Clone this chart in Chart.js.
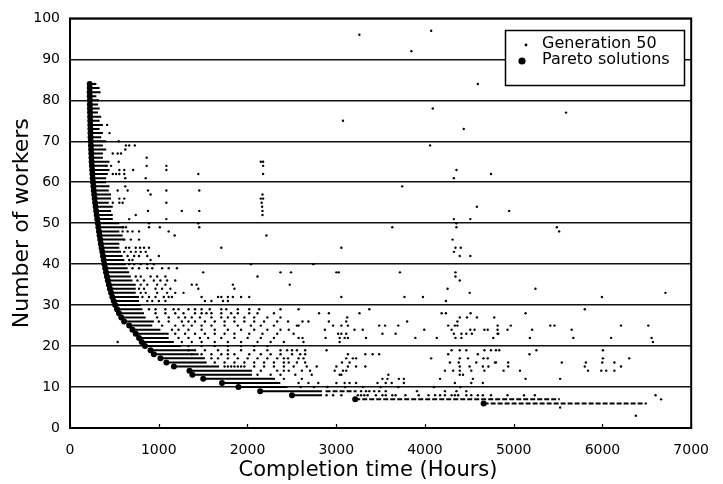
<!DOCTYPE html>
<html><head><meta charset="utf-8">
<script src="https://cdn.jsdelivr.net/npm/chart.js@4.4.1/dist/chart.umd.min.js"></script>
<style>html,body{margin:0;padding:0;background:#fff;}#wrap{width:723px;height:484px;position:relative;}</style>
</head><body><div id="wrap"><canvas id="c" width="723" height="484"></canvas></div>
<script>
const xTicks = [0,1000,2000,3000,4000,5000,6000,7000];
const yTicks = [0,10,20,30,40,50,60,70,80,90,100];
const xTitle = 'Completion time (Hours)';
const yTitle = 'Number of workers';
const legendLabels = ['Generation 50','Pareto solutions'];

// Pareto front (number of workers, completion time)
const paretoY = [84,83,82,81,80,79,78,77,76,75,74,73,72,71,70,69,68,67,66,65,64,63,62,61,60,59,58,57,56,55,54,53,52,51,50,49,48,47,46,45,44,43,42,41,40,39,38,37,36,35,34,33,32,31,30,29,28,27,26,25,24,23,22,21,20,19,18,17,16,15,14,13,12,11,10,9,8,7,6];
const paretoX = [222,222,222,223,224,224,225,226,227,228,229,230,231,232,234,236,238,240,242,244,247,250,253,256,260,264,268,273,278,283,289,295,301,307,314,320,327,334,341,348,356,364,372,380,388,397,406,416,427,438,450,463,477,493,510,530,552,578,610,667,704,741,778,808,845,908,945,1019,1086,1171,1346,1379,1501,1713,1898,2143,2502,3214,4661];
// end of the dense run of Generation 50 solutions in each Pareto row (rows 84..8)
const genRunEnd = [297,334,345,297,326,315,334,315,352,334,371,334,371,352,408,371,408,371,371,445,426,445,426,408,408,445,437,463,463,437,482,463,482,482,556,612,556,593,612,556,556,575,593,612,630,649,667,686,704,741,741,741,778,778,797,816,834,853,945,927,1019,1112,1112,1170,1250,1400,1450,1520,1540,1680,2050,2050,2290,2370,2450,2840,2840];
// looser runs: [workers, from, to]
const genLooseRuns = [[9,2880,3230],[7,3214,5520],[6,4661,6500]];
// scattered Generation 50 solutions: [workers, [completion times]]
const genScatter = [
 [97,[4070]],[96,[3261]],[92,[3847]],[84,[278,4596]],[78,[4088]],[77,[5590]],[75,[3076]],
 [74,[419]],[73,[4437]],[72,[445]],[70,[549]],[69,[630,667,730,4058]],[68,[623]],
 [67,[482,537,575]],[66,[864]],[65,[549,2150,2176]],[64,[408,463,864,1086,2176]],
 [63,[556,612,712,1086,4355]],[62,[482,519,556,612,1446,2176,4744]],[61,[623,853,4326]],
 [59,[623,3743]],[58,[537,649,879,1086,1457]],[57,[908,2169]],[56,[556,612,2150,2176]],
 [55,[482,556,593,1086,2160]],[54,[2165,4585]],[53,[879,1260,1457,2169,4949]],[52,[741,2169]],
 [51,[667,1086,4326,4511]],[50,[890,1446,4355]],[49,[593,630,890,1012,1457,3632,4355,5486]],
 [48,[593,649,704,778,1112,5512]],[47,[1179,2213]],[46,[612,686,778,4311]],
 [44,[630,667,741,790,834,890,1705,3058,4344,4403]],[43,[612,686,741,797,853,4326]],
 [42,[649,723,778,871,1001,4392,4511]],[41,[667,704,908]],
 [40,[667,723,797,871,945,2039,2743]],[39,[704,778,871,927,1038,1112,1205]],
 [38,[1501,2372,2490,3002,3028,3718,4344]],[37,[741,797,908,982,1075,2113,4344]],
 [36,[760,834,945,1019,1094,1186,4392]],[35,[797,871,982,1075,1372,1427,1835,2476]],
 [34,[778,834,964,1038,1131,1446,1853,4255,5245]],[33,[797,853,982,1094,1186,1279,4504,6710]],
 [32,[816,890,964,1057,1112,1149,1483,1668,1705,1779,1835,1928,2020,3058,3769,3977,5994]],
 [31,[871,927,1001,1075,1520,1594,1724,1779,4236]],
 [29,[890,964,1075,1168,1223,1335,1409,1483,1575,1705,1761,1891,2020,2132,2372,2576,3373,5801]],
 [28,[964,1075,1186,1279,1409,1483,1538,1594,1705,1816,1891,2020,2113,2298,2806,2917,3262,4188,4236,4514,5134]],
 [27,[982,1112,1223,1297,1372,1464,1594,1705,1779,1853,1965,2076,2224,2372,3124,4392,4474,4585,4781]],
 [26,[1001,1112,1260,1335,1409,1520,1631,1742,1853,1965,2076,2187,2335,2457,2620,2687,2917,3113,3799,4366]],
 [25,[1038,1186,1279,1372,1483,1594,1742,1891,2039,2150,2298,2557,2576,2965,3058,3132,3484,3551,3699,4262,4337,4366,4819,4967,5412,5460,6209,6517]],
 [24,[1149,1223,1335,1483,1631,1779,1928,2076,2224,2372,2465,2872,3206,3299,3992,4300,4511,4559,4670,4707,4818,4930,5208,5653]],
 [23,[1186,1297,1409,1520,1631,1742,1853,2020,2169,2335,2520,3021,3058,3113,3521,3669,4326,4411,4466,4529,4818,4826]],
 [22,[1223,1335,1464,1557,1705,1853,2002,2150,2298,2576,2620,2880,3039,3095,3132,3336,3892,4133,4344,4411,4770,5182,5672,6098,6554]],
 [21,[537,1260,1372,1483,1631,1779,1928,2113,2261,2410,2631,3039,6569]],
 [20,[1335,1483,1631,1779,1928,2076,2224]],
 [19,[1335,1409,1520,1668,1779,1928,2076,2224,2372,2446,2502,2557,2650,2891,4300,4392,4466,4670,4744,4800,4837,5256,6005]],
 [18,[1372,1483,1594,1705,1779,1853,2020,2150,2261,2372,2502,2594,2650,3132,3328,3410,3484,4262,4596,5178]],
 [17,[1594,1668,1779,1891,2002,2113,2224,2335,2410,2457,2576,2631,3113,3187,3224,4070,4392,4485,4659,4707,6005,6302]],
 [16,[1631,1742,1853,1965,2076,2187,2298,2410,2465,2557,2650,3065,3150,4281,4381,4578,4789,4800,4938,5542,5813,5998,6135]],
 [15,[1742,1779,1816,1853,1891,1928,1965,2076,2187,2298,2410,2520,2668,2780,3002,3132,3224,3328,4392,4503,4652,4715,4938,5801,6209]],
 [14,[2150,2335,2410,2465,2613,2705,2983,3076,3113,4225,4318,4392,4522,4670,4886,5071,5838,5987,6043,6135]],
 [13,[2113,2261,2372,2539,2724,3039,3058,3588,4392,4429]],
 [12,[2298,2410,2613,3521,3577,3706,3762,4170,4540,5134,5523]],
 [11,[2576,2687,2798,3002,3095,3150,3224,3465,3558,3625,3762,4337,4522,4652]],
 [10,[2600,2750,2900,3100,3300,3500,3700,4100,4400]],
 [9,[3280,3336,3373,3428,3484,3558,3910,4225,4355,4466]],
 [8,[2891,2965,3058,3243,3280,3317,3354,3447,3521,3558,3632,3669,3780,3929,4040,4114,4170,4225,4300,4337,4374,4466,4522,4596,4652,4744,4930,5116,5238,6598]],
 [7,[6661]],[5,[5523]],[3,[6376]]
];

const FONT = "'DejaVu Sans', sans-serif";

const runData = [];
genRunEnd.forEach((end, i) => {
  runData.push({x: paretoX[i], y: paretoY[i]}, {x: end, y: paretoY[i]}, {x: end, y: null});
});
const looseData = [];
genLooseRuns.forEach(([y, a, b]) => { looseData.push({x: a, y}, {x: b, y}, {x: b, y: null}); });
const genPts = genScatter.flatMap(([y, xs]) => xs.map(x => ({x, y})));
const paretoPts = paretoY.map((y, i) => ({x: paretoX[i], y}));

const decor = {
  id: 'decor',
  afterDatasetsDraw(chart) {
    const {ctx, chartArea: a, scales: {x, y}} = chart;
    ctx.save();
    ctx.strokeStyle = '#000'; ctx.lineWidth = 1.2;
    xTicks.forEach(v => {
      const px = Math.round(x.getPixelForValue(v)) + 0.5;
      ctx.beginPath(); ctx.moveTo(px, a.bottom); ctx.lineTo(px, a.bottom - 4); ctx.stroke();
    });
    ctx.lineWidth = 2;
    ctx.strokeRect(a.left, a.top, a.right - a.left, a.bottom - a.top);
    const bx = 505, by = 30, bw = 179, bh = 55;
    ctx.fillStyle = '#fff'; ctx.fillRect(bx, by, bw, bh);
    ctx.lineWidth = 1.5; ctx.strokeStyle = '#000'; ctx.strokeRect(bx + 0.5, by + 0.5, bw, bh);
    ctx.fillStyle = '#000';
    ctx.beginPath(); ctx.arc(526, 45, 1.4, 0, Math.PI * 2); ctx.fill();
    ctx.beginPath(); ctx.arc(522, 61, 3.6, 0, Math.PI * 2); ctx.fill();
    ctx.font = '16px ' + FONT; ctx.textBaseline = 'middle'; ctx.textAlign = 'left';
    ctx.fillText(legendLabels[0], 542, 44);
    ctx.fillText(legendLabels[1], 542, 60);
    ctx.font = '21px ' + FONT; ctx.textAlign = 'center';
    ctx.fillText(xTitle, 368, 471);
    ctx.translate(22, (a.top + a.bottom) / 2); ctx.rotate(-Math.PI / 2);
    ctx.font = '22px ' + FONT;
    ctx.fillText(yTitle, 0, 0);
    ctx.restore();
  }
};

new Chart(document.getElementById('c'), {
  type: 'scatter',
  data: { datasets: [
    { type: 'line', data: runData, borderColor: '#000', borderWidth: 2, pointRadius: 0, spanGaps: false, tension: 0, borderCapStyle: 'butt' },
    { type: 'line', data: looseData, borderColor: '#000', borderWidth: 2, borderDash: [5, 2], pointRadius: 0, spanGaps: false, tension: 0 },
    { label: legendLabels[0], data: genPts, backgroundColor: '#000', borderWidth: 0, pointRadius: 1.2 },
    { label: legendLabels[1], data: paretoPts, backgroundColor: '#000', borderWidth: 0, pointRadius: 3 }
  ]},
  options: {
    responsive: false, animation: false, events: [],
    layout: { padding: { top: 14, right: 24, left: 0, bottom: 0 } },
    plugins: { legend: { display: false }, tooltip: { enabled: false } },
    scales: {
      x: { type: 'linear', min: 0, max: 7000,
        afterBuildTicks: s => { s.ticks = xTicks.map(v => ({value: v})); },
        afterFit: s => { s.height = 56; },
        grid: { display: false, drawTicks: false },
        border: { display: false },
        ticks: { color: '#000', font: { family: FONT, size: 14 }, padding: 14, maxRotation: 0, autoSkip: false, callback: v => String(v) }
      },
      y: { type: 'linear', min: 0, max: 100,
        afterBuildTicks: s => { s.ticks = yTicks.map(v => ({value: v})); },
        afterFit: s => { s.width = 70; },
        grid: { color: '#111', lineWidth: 1.5, drawTicks: false },
        border: { display: false },
        ticks: { color: '#000', font: { family: FONT, size: 14 }, padding: 10, autoSkip: false, callback: v => String(v) }
      }
    }
  },
  plugins: [decor]
});
</script></body></html>
